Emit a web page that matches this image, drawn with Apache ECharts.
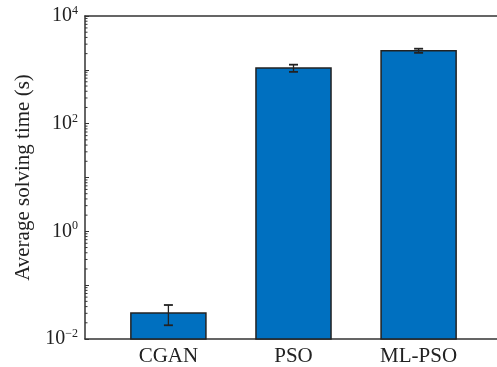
<!DOCTYPE html>
<html>
<head>
<meta charset="utf-8">
<script src="https://cdn.jsdelivr.net/npm/echarts@6/dist/echarts.min.js"></script>
<style>html,body{margin:0;padding:0;background:#fff;overflow:hidden;}#c{width:497px;height:367px;}</style>
</head>
<body>
<div id="c"></div>
<script>
const categories = ['CGAN', 'PSO', 'ML-PSO'];
const means = [0.0304, 1082, 2269];
const errors = [0.0124, 165, 200];
const yMin = 0.01, yMax = 10000;
const xMin = 1/3, xMax = 11/3;
const minorMultipliers = [2, 3, 4, 5, 6, 7, 8, 9];
const minorDecades = [0.01, 0.1, 1, 10, 100, 1000];

const minorTickValues = [];
minorDecades.forEach(d => minorMultipliers.forEach(m => minorTickValues.push([xMin, m * d])));

const chart = echarts.init(document.getElementById('c'), null, {renderer: 'canvas'});
const FONT = 'Liberation Serif';
const data = categories.map((c, i) => [i + 1, means[i], errors[i]]);
const lineStyle = {color: '#333', width: 1.5};

chart.setOption({
  animation: false,
  grid: {left: 85, top: 16, height: 323, width: 417, outerBoundsMode: 'none', show: false, containLabel: false},
  xAxis: [{
    type: 'value', min: xMin, max: xMax,
    axisLine: {show: true, lineStyle: lineStyle},
    axisTick: {show: false},
    splitLine: {show: false},
    axisLabel: {
      customValues: [1, 2, 3],
      formatter: v => categories[Math.round(v) - 1] || '',
      fontFamily: FONT, fontSize: 21, color: '#222', margin: 7
    }
  }, {
    type: 'value', min: xMin, max: xMax, position: 'top',
    axisLine: {show: true, lineStyle: lineStyle},
    axisTick: {show: false}, axisLabel: {show: false}, splitLine: {show: false}
  }],
  yAxis: {
    type: 'log', logBase: 10, min: yMin, max: yMax, interval: 1,
    name: 'Average solving time (s)', nameLocation: 'middle', nameGap: 42,
    nameTextStyle: {fontFamily: FONT, fontSize: 21, color: '#222'},
    axisLine: {show: true, lineStyle: lineStyle},
    axisTick: {show: true, inside: true, length: 4, lineStyle: {color: '#333', width: 1}},
    splitLine: {show: false},
    axisLabel: {
      margin: 7,
      formatter: v => {
        const e = Math.round(Math.log10(v));
        if (e % 2 !== 0) return '';
        return '{b|10}{s|' + (e < 0 ? '\u2212' + (-e) : e) + '}';
      },
      rich: {
        b: {fontFamily: FONT, fontSize: 20, color: '#222'},
        s: {fontFamily: FONT, fontSize: 12, color: '#222', verticalAlign: 'top', padding: [0, 0, 10, 0]}
      }
    }
  },
  series: [{
    type: 'custom',
    encode: {x: 0, y: 1},
    data: data,
    renderItem: (params, api) => {
      const x = api.value(0), v = api.value(1), e = api.value(2);
      const p1 = api.coord([x - 0.3, v]);
      const p0 = api.coord([x + 0.3, yMin]);
      const top = api.coord([x, v + e]);
      const bot = api.coord([x, v - e]);
      const cap = 4.5;
      return {
        type: 'group',
        children: [
          {type: 'rect', shape: {x: p1[0], y: p1[1], width: p0[0] - p1[0], height: p0[1] - p1[1]},
           style: {fill: '#0070C0', stroke: '#222', lineWidth: 1.5}},
          {type: 'line', shape: {x1: top[0], y1: top[1], x2: bot[0], y2: bot[1]}, style: {stroke: '#222', lineWidth: 1.3}},
          {type: 'line', shape: {x1: top[0] - cap, y1: top[1], x2: top[0] + cap, y2: top[1]}, style: {stroke: '#222', lineWidth: 1.8}},
          {type: 'line', shape: {x1: bot[0] - cap, y1: bot[1], x2: bot[0] + cap, y2: bot[1]}, style: {stroke: '#222', lineWidth: 1.8}}
        ]
      };
    }
  }, {
    type: 'custom',
    encode: {x: 0, y: 1},
    data: minorTickValues,
    silent: true,
    renderItem: (params, api) => {
      const p = api.coord([api.value(0), api.value(1)]);
      return {type: 'line', shape: {x1: p[0], y1: p[1], x2: p[0] + 2.5, y2: p[1]}, style: {stroke: '#333', lineWidth: 1}};
    }
  }]
});
</script>
</body>
</html>
